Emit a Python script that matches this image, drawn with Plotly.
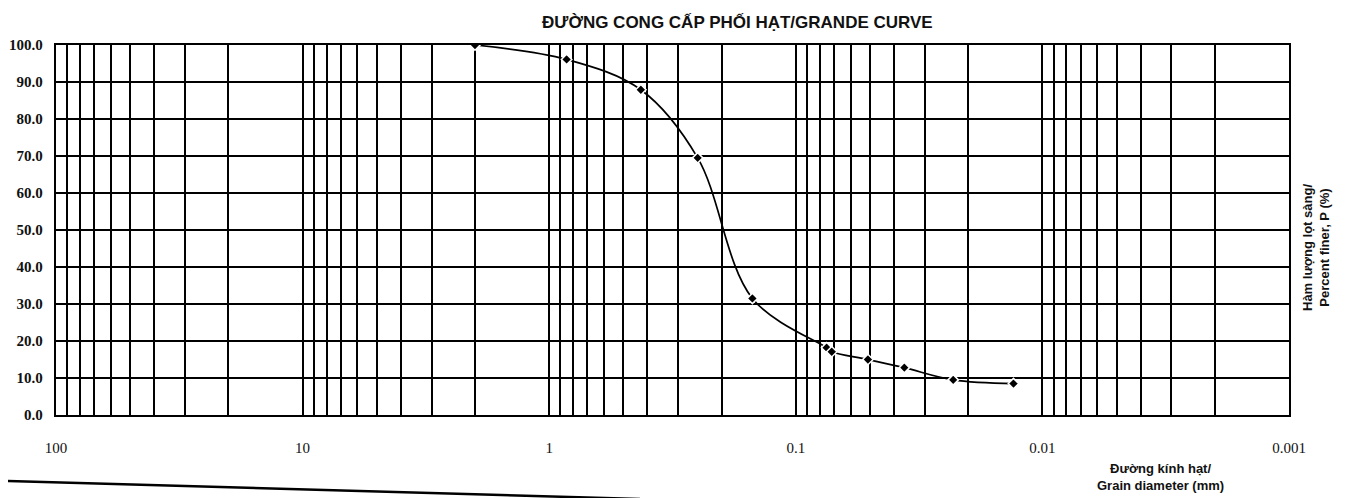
import plotly.graph_objects as go

# grain size analysis
grain_mm = [2.0, 0.85, 0.425, 0.25, 0.15, 0.075, 0.0715, 0.051, 0.0363, 0.023, 0.0131]
pct_finer = [100.0, 96.1, 87.9, 69.5, 31.5, 18.2, 17.1, 15.0, 12.8, 9.5, 8.5]

x_tickvals = [100, 10, 1, 0.1, 0.01, 0.001]
x_ticktext = ["100", "10", "1", "0.1", "0.01", "0.001"]
y_tickvals = [0, 10, 20, 30, 40, 50, 60, 70, 80, 90, 100]

# the page body has an 8px margin, so the figure is drawn 8px in from the corner
OFF = 8
W, H = 1347 - OFF, 498 - OFF
# plot area wanted on the page: x 56..1289, y 45..415
L, T = 56 - OFF, 45 - OFF
R, B = W - (1289 - OFF), H - (415 - OFF)

serif = "Liberation Serif, Times New Roman, serif"
sans = "Liberation Sans, Arial, sans-serif"

fig = go.Figure()
fig.add_trace(go.Scatter(
    x=grain_mm, y=pct_finer,
    mode="lines+markers",
    line=dict(color="black", width=1.7, shape="spline", smoothing=1.0),
    marker=dict(symbol="diamond", size=8, color="black",
                line=dict(color="white", width=1.5)),
    showlegend=False,
))

fig.update_xaxes(
    type="log", range=[2, -3], automargin=False,
    tickvals=x_tickvals, ticktext=x_ticktext,
    showgrid=True, gridcolor="black", gridwidth=1.6,
    minor=dict(dtick="D1", showgrid=True, gridcolor="black", gridwidth=1.6),
    showline=True, linecolor="black", linewidth=2.4, mirror=True,
    ticks="", ticklabelstandoff=18,
    tickfont=dict(family=serif, size=15, color="#111"),
    zeroline=False,
)
fig.update_yaxes(
    range=[0, 100], tickvals=y_tickvals, tickformat=".1f", automargin=False,
    showgrid=True, gridcolor="black", gridwidth=1.6,
    showline=True, linecolor="black", linewidth=2.4, mirror=True,
    ticks="", ticklabelstandoff=8,
    tickfont=dict(family=serif, size=15, color="#111", weight="bold"),
    zeroline=False,
)

pw = W - L - R
ph = H - T - B


def px(x):
    # page pixel -> paper fraction
    return (x - OFF - L) / pw


def py(y):
    return (H - B - (y - OFF)) / ph


def note(x, y, text, size, family, angle=0):
    fig.add_annotation(
        x=px(x), y=py(y), xref="paper", yref="paper",
        xanchor="center", yanchor="middle",
        text=text, textangle=angle, showarrow=False,
        font=dict(family=family, size=size, color="#111"),
    )


note(737, 22, "<b>ĐƯỜNG CONG CẤP PHỐI HẠT/GRANDE CURVE</b>", 17, sans)
note(1316, 248, "<b>Hàm lượng lọt sàng/<br>Percent finer, P (%)</b>", 13, sans, -90)
note(1160, 477, "<b>Đường kính hạt/<br>Grain diameter (mm)</b>", 13, sans)

# scanned page border along the bottom
fig.add_shape(type="line", xref="paper", yref="paper",
              x0=px(OFF), y0=py(481), x1=px(640), y1=py(499),
              line=dict(color="black", width=2.5))

fig.update_layout(
    width=W, height=H,
    margin=dict(l=L, r=R, t=T, b=B),
    paper_bgcolor="white", plot_bgcolor="white",
)

fig.write_html("out.html")
